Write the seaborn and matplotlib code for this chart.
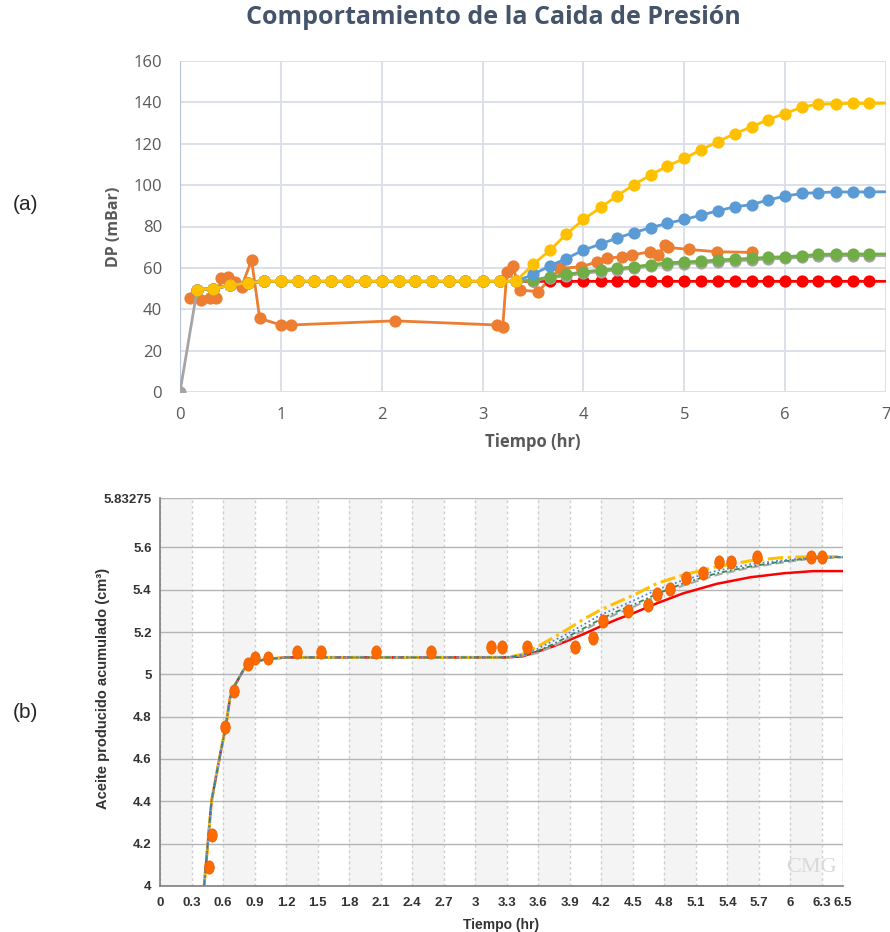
import matplotlib
matplotlib.use("Agg")
import matplotlib.pyplot as plt
import seaborn as sns
import numpy as np
from matplotlib.path import Path
from matplotlib.ticker import MultipleLocator, FixedLocator

sns.set_style("white")
plt.rcParams['font.family'] = ['Open Sans', 'DejaVu Sans']

# ---------------- (a) data ----------------
t_sim = [0.17, 0.33, 0.5, 0.67, 0.83, 1.0, 1.17, 1.33, 1.5, 1.67, 1.83, 2.0, 2.17, 2.33,
         2.5, 2.67, 2.83, 3.0, 3.17, 3.33, 3.5, 3.67, 3.83, 4.0, 4.17, 4.33, 4.5, 4.67,
         4.83, 5.0, 5.17, 5.33, 5.5, 5.67, 5.83, 6.0, 6.17, 6.33, 6.5, 6.67, 6.83, 7.0]
dp_early = [49.5, 50.0, 51.5, 52.8, 53.5, 53.5, 53.5, 53.5, 53.5, 53.5, 53.5, 53.5,
            53.5, 53.5, 53.5, 53.5, 53.5, 53.5, 53.5, 53.5]
dp_yellow_late = [61.7, 68.6, 76.3, 83.4, 89.2, 94.7, 100.2, 105.0, 109.2, 112.9, 117.2,
                  120.9, 124.9, 128.2, 131.7, 134.6, 137.8, 139.1, 139.4, 139.5, 139.5, 139.6]
dp_blue_late = [56.8, 61.0, 64.5, 68.6, 71.5, 74.4, 77.0, 79.5, 81.5, 83.4, 85.5, 87.6,
                89.5, 90.6, 92.8, 94.7, 96.0, 96.4, 96.7, 96.7, 96.7, 96.8]
dp_green_late = [54.1, 55.7, 56.8, 58.1, 58.9, 59.7, 60.5, 61.6, 62.4, 62.9, 63.2, 63.8,
                 64.2, 64.6, 65.1, 65.4, 65.9, 66.5, 66.7, 66.7, 66.7, 66.7]
dp_gray_late = [53.8, 55.2, 56.2, 57.4, 58.2, 59.0, 59.8, 60.8, 61.6, 62.1, 62.4, 63.0,
                63.4, 63.8, 64.3, 64.6, 65.1, 65.7, 65.9, 65.9, 65.9, 65.9]
dp_red_late = [53.5, 53.5, 53.5, 53.5, 53.5, 53.5, 53.5, 53.5, 53.5, 53.5, 53.5, 53.5,
               53.5, 53.5, 53.5, 53.5, 53.5, 53.5, 53.5, 53.5, 53.5, 53.5]
t_gray_start = [0.0]
dp_gray_start = [0.0]

t_exp_a = [0.1, 0.21, 0.3, 0.36, 0.41, 0.48, 0.55, 0.61, 0.71, 0.79, 1.0, 1.1, 2.13,
           3.14, 3.2, 3.24, 3.3, 3.37, 3.55, 3.77, 3.98, 4.13, 4.23, 4.38, 4.48, 4.66,
           4.74, 4.81, 4.84, 5.05, 5.32, 5.67]
dp_exp_a = [45.2, 44.5, 45.2, 45.2, 54.9, 55.7, 53.3, 50.9, 63.8, 35.6, 32.4, 32.4, 34.4,
            32.4, 31.3, 57.8, 60.8, 49.3, 48.5, 59.8, 60.5, 62.9, 64.6, 65.4, 66.2, 67.8,
            66.2, 71.0, 69.9, 68.9, 67.8, 67.5]

xticks_a = [0, 1, 2, 3, 4, 5, 6, 7]
yticks_a = [0, 20, 40, 60, 80, 100, 120, 140, 160]

# ---------------- (b) data ----------------
t_b_early = [0.42, 0.49, 0.58, 0.625, 0.667, 0.714, 0.794, 0.857, 1.016, 1.2, 3.3]
v_b_early = [4.0, 4.4, 4.64, 4.75, 4.89, 4.95, 5.02, 5.055, 5.072, 5.08, 5.08]
t_b_late = [3.45, 3.59, 3.73, 3.87, 4.03, 4.19, 4.35, 4.51, 4.73, 4.98, 5.3, 5.62, 5.94, 6.22, 6.5]
v_red_b = [5.085, 5.107, 5.13, 5.157, 5.19, 5.226, 5.26, 5.29, 5.336, 5.383, 5.428, 5.459, 5.478, 5.488, 5.488]
v_yellow_b = [5.095, 5.13, 5.17, 5.21, 5.26, 5.304, 5.34, 5.375, 5.43, 5.47, 5.509, 5.537, 5.553, 5.556, 5.556]
v_blue_b = [5.092, 5.12, 5.155, 5.19, 5.235, 5.28, 5.315, 5.35, 5.40, 5.445, 5.49, 5.52, 5.54, 5.552, 5.555]
v_green_b = [5.09, 5.11, 5.14, 5.175, 5.217, 5.26, 5.297, 5.33, 5.38, 5.43, 5.478, 5.51, 5.535, 5.55, 5.555]
v_gray_b = [5.088, 5.10, 5.13, 5.165, 5.207, 5.25, 5.287, 5.32, 5.37, 5.42, 5.47, 5.505, 5.53, 5.548, 5.553]

t_exp_b = [0.47, 0.498, 0.622, 0.70, 0.838, 0.905, 1.026, 1.302, 1.53, 2.057, 2.58, 3.15,
           3.25, 3.49, 3.95, 4.12, 4.22, 4.45, 4.64, 4.73, 4.85, 5.01, 5.17, 5.32, 5.43,
           5.68, 6.2, 6.3]
v_exp_b = [4.09, 4.24, 4.75, 4.922, 5.05, 5.077, 5.077, 5.104, 5.104, 5.104, 5.104, 5.128,
           5.128, 5.128, 5.128, 5.173, 5.252, 5.301, 5.328, 5.378, 5.403, 5.454, 5.48, 5.53,
           5.53, 5.556, 5.556, 5.556]

xticks_b = [0, 0.3, 0.6, 0.9, 1.2, 1.5, 1.8, 2.1, 2.4, 2.7, 3, 3.3, 3.6, 3.9, 4.2, 4.5,
            4.8, 5.1, 5.4, 5.7, 6, 6.3, 6.5]
xtick_labels_b = ["0", "0.3", "0.6", "0.9", "1.2", "1.5", "1.8", "2.1", "2.4", "2.7", "3",
                  "3.3", "3.6", "3.9", "4.2", "4.5", "4.8", "5.1", "5.4", "5.7", "6", "6.3", "6.5"]
yticks_b = [4, 4.2, 4.4, 4.6, 4.8, 5, 5.2, 5.4, 5.6, 5.83275]
ytick_labels_b = ["4", "4.2", "4.4", "4.6", "4.8", "5", "5.2", "5.4", "5.6", "5.83275"]

# ---------------- figure ----------------
fig = plt.figure(figsize=(8.9, 9.32), dpi=100)

# ======== (a) ========
ax = fig.add_axes([180/890, 1-392/932, (886-180)/890, (392-61)/932])
grid_c = "#D9DEE7"
text_c = "#595959"
ms = 8.8
lw = 2.0

def series(tx, vy, color, z, last_marker=False):
    n = len(tx)
    me = list(range(n)) if last_marker else list(range(n - 1))
    sns.lineplot(x=tx, y=vy, ax=ax, color=color, lw=lw, marker='o', markersize=ms,
                 markeredgewidth=0, markevery=me, zorder=z, sort=False,
                 estimator=None, legend=False)

series(t_exp_a, dp_exp_a, "#ED7D31", 3, last_marker=True)
series(t_sim, dp_early + dp_red_late, "#FF0000", 4)
series(t_gray_start + t_sim, dp_gray_start + dp_early + dp_gray_late, "#A5A5A5", 5)
series(t_sim, dp_early + dp_green_late, "#70AD47", 6)
series(t_sim, dp_early + dp_blue_late, "#5B9BD5", 7)
series(t_sim, dp_early + dp_yellow_late, "#FFC000", 8)

ax.set_xlim(0, 7)
ax.set_ylim(0, 160)
ax.set_xticks(xticks_a)
ax.set_yticks(yticks_a)
ax.grid(True, color=grid_c, lw=1.3)
for s in ax.spines.values():
    s.set_visible(False)
ax.axvline(0, color="#B7C3D7", lw=1.6, zorder=1)
ax.tick_params(axis='both', length=0, labelsize=12, labelcolor=text_c)
ax.tick_params(axis='y', pad=13)
ax.tick_params(axis='x', pad=11)
ax.set_xlabel("Tiempo (hr)", fontsize=12, fontweight='bold', color=text_c, labelpad=7)
ax.set_ylabel("DP (mBar)", fontsize=11.5, fontweight='bold', color=text_c, labelpad=8)
ax.set_axisbelow(True)
fig.text(493/890, 1-18/932, "Comportamiento de la Caida de Presión", ha='center', va='center',
         fontsize=18, fontweight='bold', color="#44546A")

fig.text(25/890, 1-205/932, "(a)", ha='center', va='center', fontsize=15,
         family=['Liberation Sans', 'DejaVu Sans'])
fig.text(25/890, 1-712/932, "(b)", ha='center', va='center', fontsize=15,
         family=['Liberation Sans', 'DejaVu Sans'])

# ======== (b) ========
bx = fig.add_axes([160/890, 46.2/932, (843-160)/890, (885.8-498.2)/932])
narrow = ['Liberation Sans Narrow', 'Liberation Sans', 'DejaVu Sans']
# alternating shaded bands
for i in range(0, 22, 2):
    bx.axvspan(xticks_b[i], xticks_b[i+1], color="#F4F4F4", lw=0, zorder=0)

def bline(tx, vy, color, z, ls, lwb):
    sns.lineplot(x=tx, y=vy, ax=bx, color=color, lw=lwb, linestyle=ls, zorder=z,
                 sort=False, estimator=None, legend=False)

bline(t_b_early + t_b_late, v_b_early + v_red_b, "#FF0000", 3, '-', 1.8)
bline(t_b_early + t_b_late, v_b_early + v_yellow_b, "#FFC000", 4, (0, (5, 1.5, 1, 1.5)), 2.2)
bline(t_b_early + t_b_late, v_b_early + v_gray_b, "#A8A8A8", 5, (0, (4, 2)), 1.5)
bline(t_b_early + t_b_late, v_b_early + v_green_b, "#2E8B57", 6, (0, (3, 1.5, 1, 1.5)), 1.3)
bline(t_b_early + t_b_late, v_b_early + v_blue_b, "#4F7FE8", 7, (0, (1, 1.5)), 1.3)

ell = Path.unit_circle().transformed(matplotlib.transforms.Affine2D().scale(0.72, 1.0))
sns.scatterplot(x=t_exp_b, y=v_exp_b, ax=bx, marker=ell, s=90, color="#FF6A00",
                edgecolor="#E8620A", linewidth=0.6, zorder=9, legend=False)

bx.set_xlim(0, 6.5)
bx.set_ylim(4, 5.83275)
bx.xaxis.set_major_locator(FixedLocator(xticks_b))
bx.set_xticklabels(xtick_labels_b)
bx.yaxis.set_major_locator(FixedLocator(yticks_b))
bx.set_yticklabels(ytick_labels_b)
bx.yaxis.set_minor_locator(MultipleLocator(0.05))
bx.xaxis.set_minor_locator(MultipleLocator(0.1))
bx.grid(True, axis='y', color="#B4B4B4", lw=1.0, zorder=1)
bx.grid(True, axis='x', color="#CFCFCF", lw=1.0, linestyle=(0, (2, 2)), zorder=1)
bx.set_axisbelow(True)
for k in ['top', 'right']:
    bx.spines[k].set_visible(False)
for k in ['left', 'bottom']:
    bx.spines[k].set_color("#7F7F7F")
    bx.spines[k].set_linewidth(1.2)
bx.axvline(6.5, color="#D8D8D8", lw=1.0, zorder=1)
bx.tick_params(axis='both', which='major', length=4, width=1, color="#7F7F7F", labelsize=9.5,
               labelcolor="#333333", pad=2, direction='out')
bx.tick_params(axis='x', which='major', pad=4)
bx.tick_params(axis='both', which='minor', length=2, width=0.8, color="#9F9F9F")
for lab in bx.get_xticklabels() + bx.get_yticklabels():
    lab.set_family(narrow)
    lab.set_fontweight('bold')
bx.set_xlabel("Tiempo (hr)", fontsize=10, fontweight='bold', family=narrow, color="#333333")
bx.xaxis.set_label_coords((501-160)/683, -(918-885.8)/387.6)
bx.set_ylabel("Aceite producido acumulado (cm³)", fontsize=10.5, fontweight='bold',
              family=['Liberation Sans', 'DejaVu Sans'], color="#333333")
bx.yaxis.set_label_coords((110-160)/683, (885.8-688)/387.6)
bx.text(6.44, 4.04, "CMG", ha='right', va='bottom', fontsize=16, color="#D9D9D9",
        family=['Liberation Serif', 'DejaVu Serif'], zorder=2)

fig.savefig("out.png", dpi=100)
